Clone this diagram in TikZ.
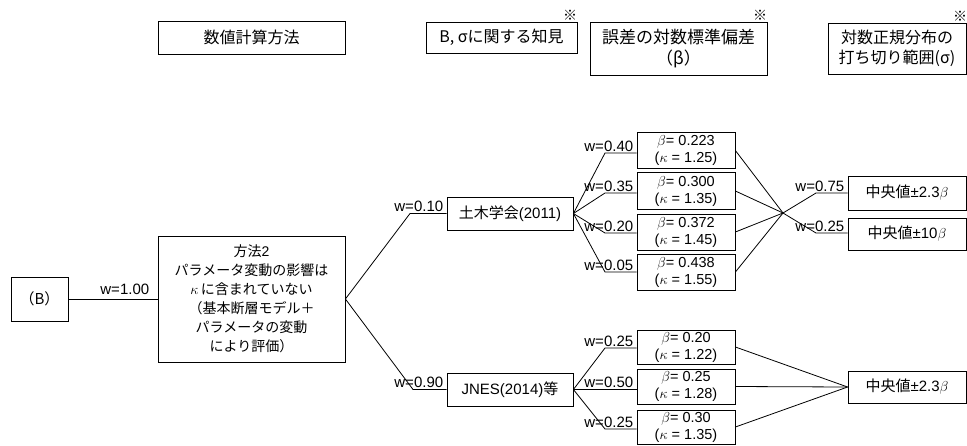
\documentclass[tikz,border=0pt]{standalone}
\usepackage{fontspec}
\setmainfont{Liberation Sans}
\newfontfamily\jp{Noto Sans CJK JP}
\usetikzlibrary{calc}
\begin{document}
\begin{tikzpicture}[x=1pt,y=-1pt,line width=0.8pt,
  box/.style={draw,rectangle,inner sep=0pt,align=center},
  hdr/.style={box,font=\fontsize{16}{20}\selectfont\jp},
  txt/.style={box,font=\fontsize{15}{18}\selectfont},
  bbox/.style={box,minimum width=98pt,font=\fontsize{14.5}{17}\selectfont},
  rbox/.style={box,minimum width=118pt,font=\fontsize{15}{18}\selectfont},
  lbl/.style={inner sep=0pt,anchor=base east,font=\fontsize{15}{18}\selectfont},
  refmark/.style={inner sep=0pt,anchor=south east,font=\fontsize{14}{15}\selectfont\jp}]
\useasboundingbox (0,0) rectangle (967,445);
% headers
\node[hdr,minimum width=187pt,minimum height=33pt] (h1) at (251.5,37.5) {数値計算方法};
\node[hdr,minimum width=151pt,minimum height=31pt] (h2) at (501.5,37.5) {B, σに関する知見};
\node[hdr,minimum width=177pt,minimum height=53pt,font=\fontsize{17}{21}\selectfont\jp] (h3) at (678.5,48.5) {誤差の対数標準偏差\\（β）};
\node[hdr,minimum width=138pt,minimum height=51pt] (h4) at (897,48.5) {対数正規分布の\\打ち切り範囲(σ)};
\node[refmark] (m2) at ($(h2.north east)+(0,-1)$) {※};
\node[refmark] (m3) at ($(h3.north east)+(0,-1)$) {※};
\node[refmark] (m4) at ($(h4.north east)+(1,-1)$) {※};
% tree
\node[txt,minimum width=57pt,minimum height=44pt] (B) at (39.5,299) {\jp（B）};
\node[box,minimum width=187pt,minimum height=126pt,font=\fontsize{14}{19}\selectfont] (M) at (251.5,299)
  {{\jp 方法}2\\{\jp パラメータ変動の影響は}\\$\kappa$\,{\jp に含まれていない}\\{\jp （基本断層モデル＋}\\{\jp パラメータの変動}\\{\jp により評価）}};
\node[txt,minimum width=126pt,minimum height=33pt] (D) at (510,213.5) {{\jp 土木学会}(2011)};
\node[txt,minimum width=126pt,minimum height=33pt] (J) at (510,389.5) {JNES(2014){\jp 等}};
\node[bbox,minimum height=36pt] (a1) at (686,150.5) {$\beta$= 0.223\\($\kappa$ = 1.25)};
\node[bbox,minimum height=37pt] (a2) at (686,191) {$\beta$= 0.300\\($\kappa$ = 1.35)};
\node[bbox,minimum height=36pt] (a3) at (686,232) {$\beta$= 0.372\\($\kappa$ = 1.45)};
\node[bbox,minimum height=36pt] (a4) at (686,272) {$\beta$= 0.438\\($\kappa$ = 1.55)};
\node[bbox,minimum height=34pt] (b1) at (686,347) {$\beta$= 0.20\\($\kappa$ = 1.22)};
\node[bbox,minimum height=35pt] (b2) at (686,386.5) {$\beta$= 0.25\\($\kappa$ = 1.28)};
\node[bbox,minimum height=34pt] (b3) at (686,427) {$\beta$= 0.30\\($\kappa$ = 1.35)};
\node[rbox,minimum height=34pt] (r1) at (907,193) {{\jp 中央値}±2.3$\beta$};
\node[rbox,minimum height=32pt] (r2) at (907,234) {{\jp 中央値}±10$\beta$};
\node[rbox,minimum height=32pt] (r3) at (907,387) {{\jp 中央値}±2.3$\beta$};
% junctions
\coordinate (t1) at (410,213.5);
\coordinate (t2) at (413,389.5);
\coordinate (k1) at (605,153);
\coordinate (k2) at (605,193);
\coordinate (k3) at (605,233);
\coordinate (k4) at (605,272);
\coordinate (j1) at (605,348);
\coordinate (j2) at (605,389.5);
\coordinate (j3) at (605,429);
\coordinate (P) at (783,213);
\coordinate (q1) at (816,193);
\coordinate (q2) at (816,233);
% connectors
\draw (B.east) -- (M.west);
\draw (M.east) -- (t1) -- (t1 -| D.west);
\draw (M.east) -- (t2) -- (t2 -| J.west);
\foreach \k/\a in {k1/a1,k2/a2,k3/a3,k4/a4}{\draw (D.east) -- (\k) -- (\k -| \a.west);}
\foreach \k/\a in {j1/b1,j2/b2,j3/b3}{\draw (J.east) -- (\k) -- (\k -| \a.west);}
\foreach \a in {a1,a2,a3,a4}{\draw (\a.east) -- (P);}
\draw (P) -- (q1) -- (q1 -| r1.west);
\draw (P) -- (q2) -- (q2 -| r2.west);
\foreach \a in {b1,b2,b3}{\draw (\a.east) -- (r3.west);}
% labels
\node[lbl] (w0) at ($(M.west)+(-8,-5)$) {w=1.00};
\node[lbl] (w1) at ($(t1 -| D.west)+(-3,-2)$) {w=0.10};
\node[lbl] (w2) at ($(t2 -| J.west)+(-3,-2)$) {w=0.90};
\node[lbl] (wa1) at ($(k1 -| a1.west)+(-3,-2)$) {w=0.40};
\node[lbl] (wa2) at ($(k2 -| a2.west)+(-3,-2)$) {w=0.35};
\node[lbl] (wa3) at ($(k3 -| a3.west)+(-3,-2)$) {w=0.20};
\node[lbl] (wa4) at ($(k4 -| a4.west)+(-3,-2)$) {w=0.05};
\node[lbl] (wb1) at ($(j1 -| b1.west)+(-3,-2)$) {w=0.25};
\node[lbl] (wb2) at ($(j2 -| b2.west)+(-3,-2)$) {w=0.50};
\node[lbl] (wb3) at ($(j3 -| b3.west)+(-3,-2)$) {w=0.25};
\node[lbl] (wr1) at ($(q1 -| r1.west)+(-3,-2)$) {w=0.75};
\node[lbl] (wr2) at ($(q2 -| r2.west)+(-3,-2)$) {w=0.25};
\end{tikzpicture}
\end{document}
